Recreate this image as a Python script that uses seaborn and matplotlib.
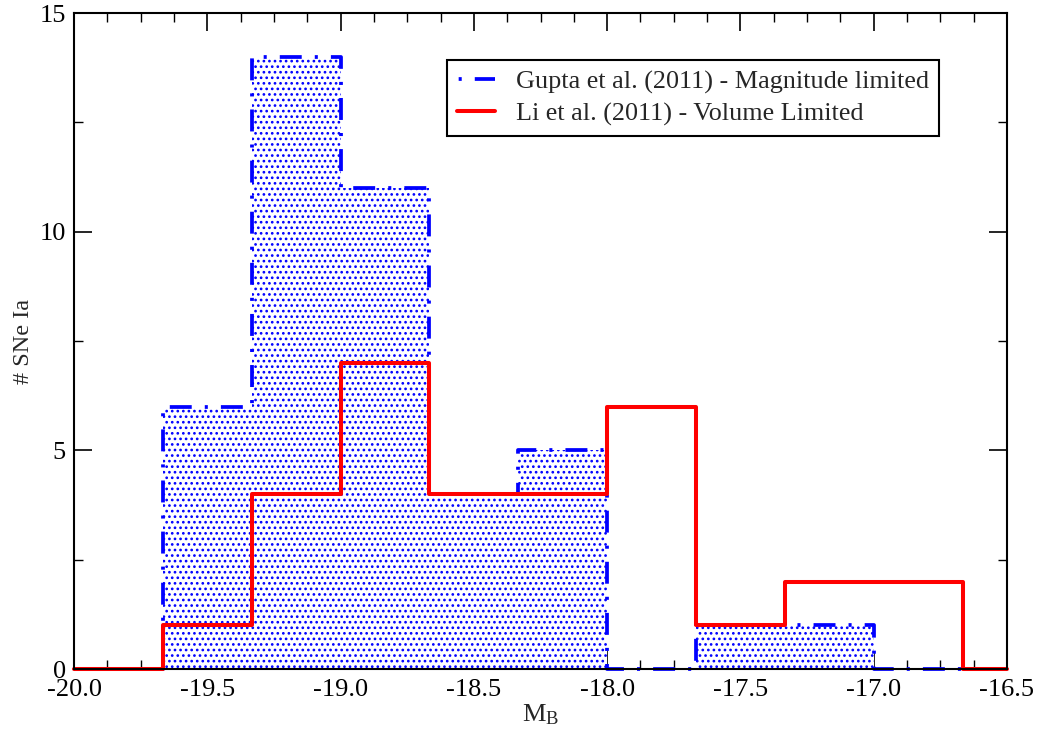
import numpy as np
import matplotlib
matplotlib.use("Agg")
import matplotlib.pyplot as plt
from matplotlib.lines import Line2D
from matplotlib.ticker import MultipleLocator, FixedLocator
import seaborn as sns

# ---- data ----
bin_edges = [-20.0, -19.6667, -19.3333, -19.0, -18.6667, -18.3333,
             -18.0, -17.6667, -17.3333, -17.0, -16.6667, -16.5]
gupta_counts = [0, 6, 14, 11, 4, 5, 0, 1, 1, 0, 0]
li_counts = [0, 1, 4, 7, 4, 4, 6, 1, 2, 2, 0]
x_ticks = [-20.0, -19.5, -19.0, -18.5, -18.0, -17.5, -17.0, -16.5]
x_tick_labels = ["-20.0", "-19.5", "-19.0", "-18.5", "-18.0", "-17.5", "-17.0", "-16.5"]
y_ticks = [0, 5, 10, 15]
y_tick_labels = ["0", "5", "10", "15"]
gupta_label = "Gupta et al. (2011) - Magnitude limited"
li_label = "Li et al. (2011) - Volume Limited"

sns.set_style("ticks")
plt.rcParams["font.family"] = ["Liberation Serif", "DejaVu Serif"]
plt.rcParams["mathtext.fontset"] = "custom"
plt.rcParams["mathtext.rm"] = "Liberation Serif"
plt.rcParams["mathtext.it"] = "Liberation Serif:italic"
plt.rcParams["axes.unicode_minus"] = False
plt.rcParams["lines.scale_dashes"] = False
plt.rcParams["hatch.linewidth"] = 1.15

edges = np.asarray(bin_edges)
centers = (edges[:-1] + edges[1:]) / 2

fig = plt.figure(figsize=(10.41, 7.38), dpi=100)
ax = fig.add_axes([74 / 1041, 1 - 669 / 738, (1007 - 74) / 1041, (669 - 13) / 738])

BLUE = "#0000ff"
RED = "#ff0000"
dashdot = (0, (15.8, 9.4, 2.2, 9.4))

# Gupta: stippled fill
sns.histplot(x=centers, weights=gupta_counts, bins=bin_edges, element="step",
             fill=True, ax=ax, facecolor="white", edgecolor=BLUE, linewidth=0,
             hatch="...", zorder=1)
# Gupta: dash-dot outline
sns.histplot(x=centers, weights=gupta_counts, bins=bin_edges, element="step",
             fill=False, ax=ax, color=BLUE, linewidth=2.7, linestyle=dashdot,
             zorder=2, clip_on=False)
# Li: solid red outline
sns.histplot(x=centers, weights=li_counts, bins=bin_edges, element="step",
             fill=False, ax=ax, color=RED, linewidth=2.9, zorder=3, clip_on=False)

ax.set_xlim(-20.0, -16.5)
ax.set_ylim(0, 15)
ax.xaxis.set_major_locator(FixedLocator(x_ticks))
ax.set_xticklabels(x_tick_labels)
ax.xaxis.set_minor_locator(MultipleLocator(0.125))
ax.yaxis.set_major_locator(FixedLocator(y_ticks))
ax.set_yticklabels(y_tick_labels)
ax.yaxis.set_minor_locator(MultipleLocator(2.5))

ax.tick_params(which="both", direction="in", top=True, right=True,
               labelsize=19, colors="black")
ax.tick_params(which="major", length=13, width=1.2, pad=7)
ax.tick_params(axis="y", which="major", pad=6)
ax.tick_params(which="minor", length=6.5, width=1.0)
for s in ax.spines.values():
    s.set_linewidth(1.5)
    s.set_color("black")
    s.set_visible(True)
    s.set_zorder(4)

ax.set_xlabel(r"M$_{\mathrm{B}}$", fontsize=19, labelpad=1)
ax.set_ylabel("# SNe Ia", fontsize=17.5, labelpad=4)

handles = [
    Line2D([], [], color=BLUE, linewidth=2.7, linestyle=(24, (15.8, 9.4, 2.2, 9.4))),
    Line2D([], [], color=RED, linewidth=2.9),
]
leg = ax.legend(handles, [gupta_label, li_label], loc="upper left",
                bbox_to_anchor=(447 / 1041, 1 - 60 / 738),
                bbox_transform=fig.transFigure, borderaxespad=0,
                fontsize=18.8, frameon=True, fancybox=False,
                handlelength=1.45, handletextpad=0.8, labelspacing=0.32,
                borderpad=0.38)
leg.get_frame().set_edgecolor("black")
leg.get_frame().set_linewidth(1.5)
leg.get_frame().set_alpha(1)

fig.savefig("out.png", dpi=100)
